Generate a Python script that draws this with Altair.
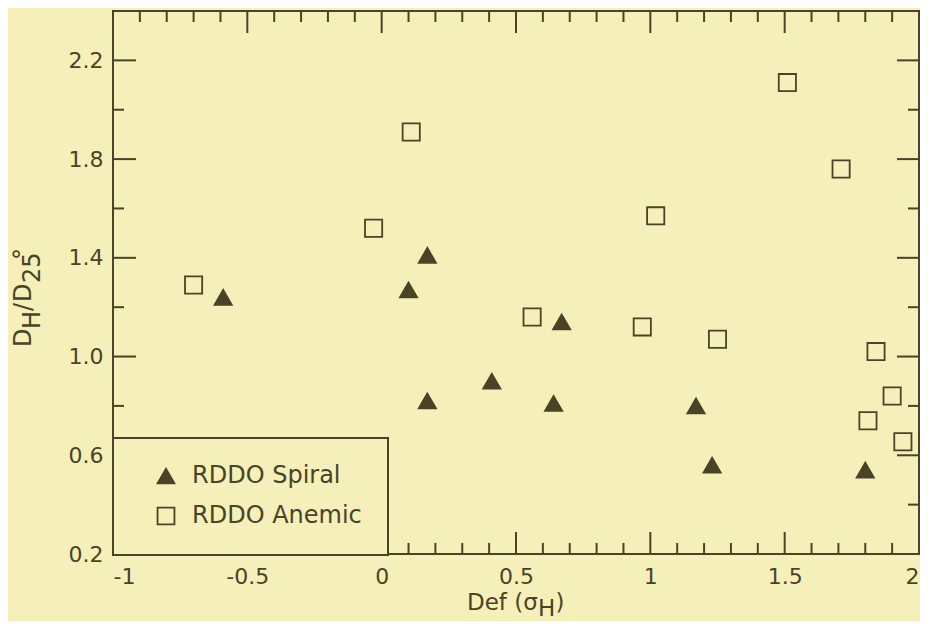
import altair as alt
import pandas as pd

INK = "#4b4326"
BG = "#f5f0b9"
FONT = "DejaVu Sans"

# --- data ---
types = ["RDDO Spiral", "RDDO Anemic"]
spiral_x = [-0.59, 0.10, 0.17, 0.17, 0.41, 0.64, 0.67, 1.17, 1.23, 1.80]
spiral_y = [1.24, 1.27, 1.41, 0.82, 0.90, 0.81, 1.14, 0.80, 0.56, 0.54]
anemic_x = [-0.70, -0.03, 0.11, 0.56, 0.97, 1.02, 1.25, 1.51, 1.71, 1.84, 1.90, 1.81, 1.94]
anemic_y = [1.29, 1.52, 1.91, 1.16, 1.12, 1.57, 1.07, 2.11, 1.76, 1.02, 0.84, 0.74, 0.655]

x_label_values = [-1, -0.5, 0, 0.5, 1, 1.5, 2]
y_label_values = [0.2, 0.6, 1.0, 1.4, 1.8, 2.2]
x_major_ticks = [-0.5, 0, 0.5, 1, 1.5]
x_minor_ticks = [-0.9, -0.8, -0.7, -0.6, -0.4, -0.3, -0.2, -0.1,
                 0.1, 0.2, 0.3, 0.4, 0.6, 0.7, 0.8, 0.9,
                 1.1, 1.2, 1.3, 1.4, 1.6, 1.7, 1.8, 1.9]
y_major_ticks = [0.6, 1.0, 1.4, 1.8, 2.2]
y_minor_ticks = [0.4, 0.8, 1.2, 1.6, 2.0]

df = pd.concat([
    pd.DataFrame({"x": spiral_x, "y": spiral_y, "type": types[0]}),
    pd.DataFrame({"x": anemic_x, "y": anemic_y, "type": types[1]}),
], ignore_index=True)

W, H = 806, 543

xs = alt.Scale(domain=[-1, 2], nice=False, zero=False)
ys = alt.Scale(domain=[0.2, 2.4], nice=False, zero=False)

x_axis = alt.Axis(
    values=x_label_values, ticks=False, tickSize=0, domain=False, grid=False,
    labelFont=FONT, labelFontSize=22, labelColor=INK, labelPadding=12,
    labelFlush=False, title=None,
    labelExpr="datum.value < 0 ? '-' + format(-datum.value, '~g') : format(datum.value, '~g')",
    labelAlign={"expr": "datum.value == -1 ? 'left' : (datum.value == 2 ? 'right' : 'center')"},
)
y_axis = alt.Axis(
    values=y_label_values, format=".1f", ticks=False, tickSize=0, domain=False, grid=False,
    labelFont=FONT, labelFontSize=22, labelColor=INK, labelPadding=10, title=None,
)

leg = alt.Legend(
    title=None, orient="none", legendX=0, legendY=427, padding=26,
    strokeColor=INK, fillColor=BG,
    labelFont=FONT, labelFontSize=24, labelColor=INK, labelOffset=14, labelLimit=400,
    rowPadding=15, symbolOffset=15, symbolSize=285,
    symbolStrokeColor=INK, symbolStrokeWidth=1.8,
)

points = alt.Chart(df).mark_point(size=295, strokeWidth=1.8, opacity=1).encode(
    x=alt.X("x:Q", scale=xs, axis=x_axis),
    y=alt.Y("y:Q", scale=ys, axis=y_axis),
    shape=alt.Shape("type:N", scale=alt.Scale(domain=types, range=["triangle-up", "square"]), legend=leg),
    fill=alt.Fill("type:N", scale=alt.Scale(domain=types, range=[INK, "transparent"]), legend=leg),
    stroke=alt.Stroke("type:N", scale=alt.Scale(domain=types, range=[INK, INK]), legend=leg),
)


def xticks(vals, y0, y1):
    return alt.Chart(pd.DataFrame({"x": vals})).mark_rule(color=INK, strokeWidth=2).encode(
        x=alt.X("x:Q", scale=xs, axis=x_axis), y=alt.value(y0), y2=alt.value(y1))


def yticks(vals, x0, x1):
    return alt.Chart(pd.DataFrame({"y": vals})).mark_rule(color=INK, strokeWidth=2).encode(
        y=alt.Y("y:Q", scale=ys, axis=y_axis), x=alt.value(x0), x2=alt.value(x1))


def txt(text, x, y, size, angle=0):
    return alt.Chart(alt.Data(values=[{}])).mark_text(
        text=text, font=FONT, fontSize=size, color=INK, align="left",
        baseline="alphabetic", angle=angle,
    ).encode(x=alt.value(x), y=alt.value(y))


layers = [
    xticks(x_major_ticks, H, H - 22), xticks(x_minor_ticks, H, H - 11),
    xticks(x_major_ticks, 0, 22), xticks(x_minor_ticks, 0, 11),
    yticks(y_major_ticks, 0, 23), yticks(y_minor_ticks, 0, 11),
    yticks(y_major_ticks, W, W - 22), yticks(y_minor_ticks, W, W - 11),
    points,
    # y-axis title  D_H / D°_25
    txt("D", -82, 336, 24, 270),
    txt("H", -73, 318, 24, 270),
    txt("/", -82, 300, 24, 270),
    txt("D", -82, 291, 24, 270),
    txt("25", -73, 272, 24, 270),
    txt("°", -82, 249, 24, 270),
    # x-axis title  Def (σ_H)
    txt("Def (σ", 354, 599, 23),
    txt("H", 425, 605, 23),
    txt(")", 442.5, 599, 23),
]

chart = alt.layer(*layers).properties(
    width=W, height=H,
    autosize=alt.AutoSizeParams(type="none"),
    padding={"left": 105, "top": 3, "right": 1, "bottom": 67},
    background=BG,
).configure_view(stroke=INK, strokeWidth=2).configure_legend(strokeWidth=2)

chart.save("out.html", embed_options={"renderer": "svg", "actions": False})
